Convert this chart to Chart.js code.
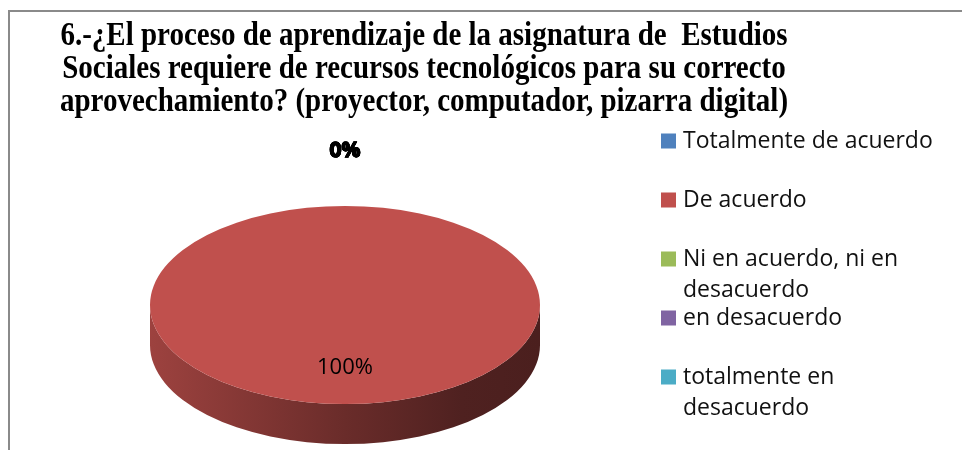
<!DOCTYPE html>
<html>
<head>
<meta charset="utf-8">
<script src="https://cdn.jsdelivr.net/npm/chart.js@4"></script>
<style>
  html, body { margin: 0; padding: 0; background: #fff; }
  canvas { display: block; }
</style>
</head>
<body>
<canvas id="pieChart" width="962" height="450"></canvas>
<script>
const titleLines = [
  '6.-¿El proceso de aprendizaje de la asignatura de  Estudios',
  'Sociales requiere de recursos tecnológicos para su correcto',
  'aprovechamiento? (proyector, computador, pizarra digital)'
];
const categories = [
  'Totalmente de acuerdo',
  'De acuerdo',
  'Ni en acuerdo, ni en desacuerdo',
  'en desacuerdo',
  'totalmente en desacuerdo'
];
const percentages = [0, 100, 0, 0, 0];
const sliceColors = ['#4f81bd', '#c0504d', '#9bbb59', '#8064a2', '#4bacc6'];

const TILT = 0.508;  // squash the pie vertically to fake the 3D tilt
const DEPTH = 40;    // thickness of the pie side

function shade(hex, f) {
  const n = parseInt(hex.slice(1), 16);
  const r = Math.round(((n >> 16) & 255) * f);
  const g = Math.round(((n >> 8) & 255) * f);
  const b = Math.round((n & 255) * f);
  return `rgb(${r},${g},${b})`;
}

// gray frame lines, top and left
const frame = {
  id: 'frame',
  beforeDraw(chart) {
    const ctx = chart.ctx;
    ctx.save();
    ctx.fillStyle = '#fff';
    ctx.fillRect(0, 0, chart.width, chart.height);
    ctx.strokeStyle = '#8a8a8a';
    ctx.lineWidth = 2;
    ctx.beginPath();
    ctx.moveTo(9, chart.height);
    ctx.lineTo(9, 11);
    ctx.lineTo(chart.width, 11);
    ctx.stroke();
    ctx.restore();
  }
};

const pie3d = {
  id: 'pie3d',
  beforeDatasetsDraw(chart) {
    const ctx = chart.ctx;
    const arcs = chart.getDatasetMeta(0).data;
    const { x, y, outerRadius: r } = arcs[0];
    const ry = r * TILT;

    // front side of every slice
    arcs.forEach((arc, i) => {
      const s = arc.startAngle, e = arc.endAngle;
      if (e - s <= 0) return;
      const col = sliceColors[i];
      const grad = ctx.createLinearGradient(x - r, 0, x + r, 0);
      grad.addColorStop(0, shade(col, 0.82));
      grad.addColorStop(0.5, shade(col, 0.55));
      grad.addColorStop(0.8, shade(col, 0.41));
      grad.addColorStop(1, shade(col, 0.39));
      [-2 * Math.PI, 0, 2 * Math.PI].forEach(off => {
        const a = Math.max(s, off), b = Math.min(e, Math.PI + off);
        if (b <= a) return;
        const a0 = a - off, b0 = b - off;
        ctx.save();
        ctx.fillStyle = grad;
        ctx.beginPath();
        ctx.ellipse(x, y, r, ry, 0, a0, b0, false);
        ctx.lineTo(x + Math.cos(b0) * r, y + DEPTH + Math.sin(b0) * ry);
        ctx.ellipse(x, y + DEPTH, r, ry, 0, b0, a0, true);
        ctx.closePath();
        ctx.fill();
        ctx.restore();
      });
    });

    ctx.save();
    ctx.translate(x, y);
    ctx.scale(1, TILT);
    ctx.translate(-x, -y);
  },
  afterDatasetsDraw(chart) {
    const ctx = chart.ctx;
    ctx.restore();

    // data labels
    const arcs = chart.getDatasetMeta(0).data;
    ctx.save();
    ctx.textAlign = 'center';
    ctx.textBaseline = 'middle';
    ctx.fillStyle = '#000';
    arcs.forEach((arc, i) => {
      const v = percentages[i];
      const mid = (arc.startAngle + arc.endAngle) / 2;
      const d = v > 0 ? 0.63 * arc.outerRadius : 1.55 * arc.outerRadius;
      const px = arc.x + Math.cos(mid) * d;
      const py = arc.y + Math.sin(mid) * d * TILT;
      if (v > 0) {
        ctx.font = '22px "Open Sans"';
        ctx.fillText(v + '%', px, py);
      } else {
        ctx.font = 'bold 21px "Open Sans"';
        ctx.strokeStyle = '#000';
        ctx.lineWidth = 1;
        ctx.strokeText(v + '%', px, py);
        ctx.fillText(v + '%', px, py);
      }
    });
    ctx.restore();
  }
};

const titleAndLegend = {
  id: 'titleAndLegend',
  afterDraw(chart) {
    const ctx = chart.ctx;
    ctx.save();
    ctx.fillStyle = '#000';
    ctx.textAlign = 'center';
    ctx.textBaseline = 'alphabetic';
    ctx.font = 'bold 29px "Liberation Serif"';
    // the original title is a little stretched vertically
    titleLines.forEach((t, i) => {
      const by = 45 + 33 * i;
      ctx.save();
      ctx.translate(424, by);
      ctx.scale(1, 1.14);
      ctx.fillText(t, 0, 0);
      ctx.restore();
    });

    // legend
    const boxX = 661, textX = 683, top = 141, step = 59, lineH = 31;
    const maxW = chart.width - textX - 12;
    ctx.font = '23px "Open Sans"';
    ctx.textAlign = 'left';
    ctx.textBaseline = 'middle';
    chart.data.labels.forEach((label, i) => {
      const cy = top + step * i;
      ctx.fillStyle = sliceColors[i];
      ctx.fillRect(boxX, cy - 7.5, 15, 15);
      const lines = [];
      let cur = '';
      label.split(' ').forEach(w => {
        const test = cur ? cur + ' ' + w : w;
        if (cur && ctx.measureText(test).width > maxW) { lines.push(cur); cur = w; }
        else cur = test;
      });
      lines.push(cur);
      ctx.fillStyle = '#111';
      lines.forEach((ln, j) => ctx.fillText(ln, textX, cy + lineH * j));
    });
    ctx.restore();
  }
};

new Chart(document.getElementById('pieChart').getContext('2d'), {
  type: 'pie',
  data: {
    labels: categories,
    datasets: [{
      data: percentages,
      backgroundColor: sliceColors,
      borderWidth: 0,
      radius: 195,
      clip: false
    }]
  },
  options: {
    responsive: false,
    animation: false,
    layout: { padding: { left: 0, right: 272, top: 160, bottom: 0 } },
    plugins: {
      legend: { display: false },
      tooltip: { enabled: false }
    }
  },
  plugins: [frame, pie3d, titleAndLegend]
});
</script>
</body>
</html>
